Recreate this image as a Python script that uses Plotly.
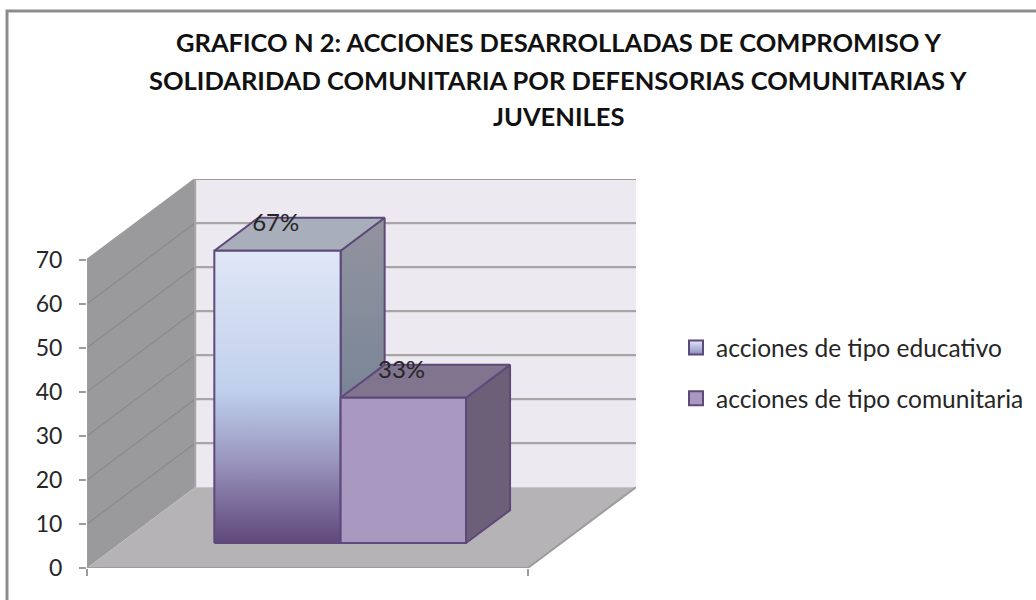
import plotly.graph_objects as go

# Chart data
title_lines = ['GRAFICO N 2: ACCIONES DESARROLLADAS DE COMPROMISO Y',
               'SOLIDARIDAD COMUNITARIA POR DEFENSORIAS COMUNITARIAS Y',
               'JUVENILES']
series_names = ['acciones de tipo educativo', 'acciones de tipo comunitaria']
series_values = [66.4, 33]
series_labels = ['67%', '33%']
y_ticks = [0, 10, 20, 30, 40, 50, 60, 70]

# Excel style oblique 3D: depth z runs 0..1 and shifts right and up
WIDTH, HEIGHT = 1036, 600
DEPTH_X = 0.2455
DEPTH_Y = 18.35
Y_MAX = 70
BAR_EDGES = [0.213, 0.4995, 0.784]
BAR_Z = (0.309, 0.716)
OUTLINE = '#5F497A'
GRID_BACK = '#A6A6A6'
GRID_SIDE = '#8A8A8A'
EDGE = '#9C9C9C'


def project(x, v, z):
    return x + z * DEPTH_X, v + z * DEPTH_Y


def path(points):
    xs, ys = zip(*[project(*p) for p in points])
    return list(xs), list(ys)


def polygon(points, color, line=None, line_width=0, gradient=None):
    xs, ys = path(points + points[:1])
    return go.Scatter(x=xs, y=ys, mode='lines', fill='toself', fillcolor=color,
                      fillgradient=gradient, line=dict(color=line or color, width=line_width),
                      hoverinfo='skip', showlegend=False, cliponaxis=False)


def segment(points, color, width):
    xs, ys = path(points)
    return go.Scatter(x=xs, y=ys, mode='lines', line=dict(color=color, width=width),
                      hoverinfo='skip', showlegend=False, cliponaxis=False)


def vertical(stops, start, stop):
    return dict(type='vertical', colorscale=stops, start=start, stop=stop)


fig = go.Figure()

# walls and floor
fig.add_trace(polygon([(0, 0, 1), (1, 0, 1), (1, Y_MAX, 1), (0, Y_MAX, 1)], '#ECEAF0'))
fig.add_trace(polygon([(0, 0, 0), (0, 0, 1), (0, Y_MAX, 1), (0, Y_MAX, 0)], '#9A999B'))
fig.add_trace(polygon([(0, 0, 0), (1, 0, 0), (1, 0, 1), (0, 0, 1)], '#B5B3B6'))

# gridlines
for v in y_ticks[1:]:
    fig.add_trace(segment([(0, v, 0), (0, v, 1)], GRID_SIDE, 1.2))
    fig.add_trace(segment([(0, v, 1), (1, v, 1)], GRID_BACK, 2.2))

# wall and floor edges
fig.add_trace(segment([(0, 0, 0), (0, Y_MAX, 0), (0, Y_MAX, 1), (1, Y_MAX, 1)], EDGE, 2))
fig.add_trace(segment([(0, 0, 1), (0, Y_MAX, 1)], '#A6A6A6', 2))
fig.add_trace(segment([(0, 0, 0), (1, 0, 0), (1, 0, 1)], EDGE, 2))

# first bar, gradient faces
z0, z1 = BAR_Z
x0, x1 = BAR_EDGES[0], BAR_EDGES[1]
v = series_values[0]
base = z0 * DEPTH_Y
front_stops = [[0, '#5F497A'], [0.147, '#7E6F9E'], [0.283, '#9A96BE'], [0.403, '#ACB4D6'],
               [0.522, '#C0D0EC'], [1, '#E0E7F6']]
side_stops = [[0, '#5F5470'], [0.5, '#7C8798'], [1, '#92949F']]
fig.add_trace(polygon([(x1, 0, z0), (x1, 0, z1), (x1, v, z1), (x1, v, z0)], '#7C8798', OUTLINE, 2,
                      vertical(side_stops, base, v + z1 * DEPTH_Y)))
fig.add_trace(polygon([(x0, v, z0), (x1, v, z0), (x1, v, z1), (x0, v, z1)], '#A9AEBB', OUTLINE, 2))
fig.add_trace(polygon([(x0, 0, z0), (x1, 0, z0), (x1, v, z0), (x0, v, z0)], '#BDCDEA', OUTLINE, 2,
                      vertical(front_stops, base, v + base)))

# second bar, flat faces
x0, x1 = BAR_EDGES[1], BAR_EDGES[2]
v = series_values[1]
fig.add_trace(polygon([(x1, 0, z0), (x1, 0, z1), (x1, v, z1), (x1, v, z0)], '#6B6078', OUTLINE, 2))
fig.add_trace(polygon([(x0, v, z0), (x1, v, z0), (x1, v, z1), (x0, v, z1)], '#80748F', OUTLINE, 2))
fig.add_trace(polygon([(x0, 0, z0), (x1, 0, z0), (x1, v, z0), (x0, v, z0)], '#A998BF', OUTLINE, 2))

# data labels
for i in range(2):
    center = (BAR_EDGES[i] + BAR_EDGES[i + 1]) / 2
    lx, ly = project(center, series_values[i] + 3.5, 0.293)
    fig.add_trace(go.Scatter(x=[lx], y=[ly], mode='text', text=[series_labels[i]],
                             textposition='top center', cliponaxis=False, hoverinfo='skip',
                             textfont=dict(family='Lato', size=24, color='#262626'),
                             showlegend=False))

# legend entries
swatches = [dict(type='vertical', color='#8A8FC0'), None]
swatch_colors = ['#E0E7F6', '#A998BF']
for i in range(2):
    fig.add_trace(go.Scatter(x=[None], y=[None], mode='markers', name=series_names[i],
                             legendgroup=series_names[i],
                             marker=dict(symbol='square', size=14, color=swatch_colors[i],
                                         gradient=swatches[i],
                                         line=dict(color=OUTLINE, width=2))))

# title lines
title_y = [42.5, 79.5, 115.5]
annotations = [dict(text=t, x=558 / WIDTH, y=1 - py / HEIGHT, xref='paper', yref='paper',
                    xanchor='center', yanchor='middle', showarrow=False,
                    font=dict(family='Lato', size=25.5, color='#111111', weight=700))
               for t, py in zip(title_lines, title_y)]

fig.update_layout(
    width=WIDTH, height=HEIGHT, margin=dict(l=0, r=0, t=0, b=0, autoexpand=False),
    paper_bgcolor='white', plot_bgcolor='white',
    annotations=annotations,
    xaxis=dict(domain=[87 / WIDTH, 636 / WIDTH], range=[0, 1 + DEPTH_X], showgrid=False,
               zeroline=False, tickvals=[0, 1], ticks='outside', ticklen=7, tickwidth=2,
               tickcolor=EDGE, showticklabels=False),
    yaxis=dict(domain=[32 / HEIGHT, 421 / HEIGHT], range=[0, Y_MAX + DEPTH_Y], showgrid=False,
               zeroline=False, tickvals=y_ticks, ticks='outside', ticklen=7, tickwidth=2,
               tickcolor=EDGE, ticklabelstandoff=12,
               tickfont=dict(family='Lato', size=23, color='#262626')),
    legend=dict(x=676 / WIDTH, y=1 - 325 / HEIGHT, xanchor='left', yanchor='top',
                tracegroupgap=16, itemsizing='trace',
                font=dict(family='Lato', size=24.5, color='#262626')),
    shapes=[dict(type='path', xref='paper', yref='paper',
                 path='M %f,0 L %f,%f L 1,%f' % (7 / WIDTH, 7 / WIDTH, 1 - 11 / HEIGHT, 1 - 11 / HEIGHT),
                 line=dict(color='#8C8C8C', width=3))],
)

fig.write_html("out.html", config={'displayModeBar': False},
               post_script="document.body.style.margin='0';")
